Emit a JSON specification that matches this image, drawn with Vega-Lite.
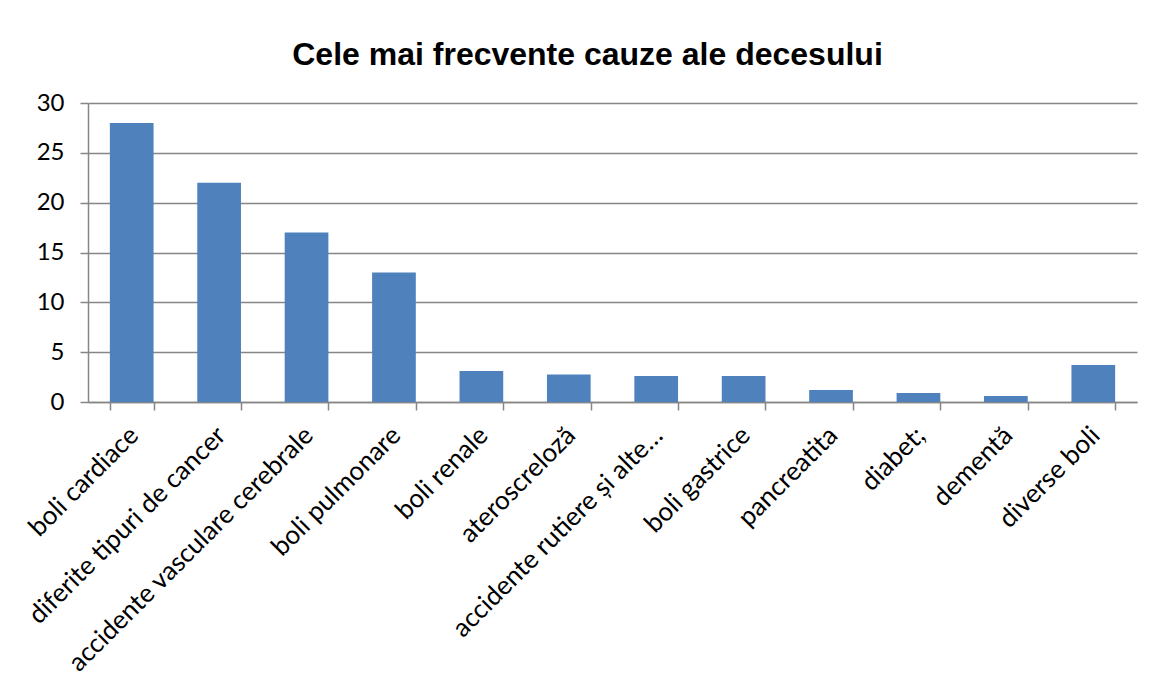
{
  "$schema": "https://vega.github.io/schema/vega-lite/v6.json",
  "width": 1049,
  "height": 299,
  "autosize": {"type": "none"},
  "padding": {"left": 88, "top": 103, "right": 17, "bottom": 274},
  "background": "white",
  "title": {
    "text": "Cele mai frecvente cauze ale decesului",
    "font": "Liberation Sans",
    "fontSize": 32,
    "fontWeight": "bold",
    "color": "black",
    "anchor": "middle",
    "dx": -25,
    "baseline": "alphabetic",
    "offset": -6
  },
  "data": {
    "values": [
      {"cauza": "boli cardiace", "valoare": 28},
      {"cauza": "diferite tipuri de cancer", "valoare": 22},
      {"cauza": "accidente vasculare cerebrale", "valoare": 17},
      {"cauza": "boli pulmonare", "valoare": 13},
      {"cauza": "boli renale", "valoare": 3.1},
      {"cauza": "ateroscreloză", "valoare": 2.75},
      {"cauza": "accidente rutiere și alte…", "valoare": 2.6},
      {"cauza": "boli gastrice", "valoare": 2.6},
      {"cauza": "pancreatita", "valoare": 1.2},
      {"cauza": "diabet;", "valoare": 0.9},
      {"cauza": "dementă", "valoare": 0.6},
      {"cauza": "diverse boli", "valoare": 3.7}
    ]
  },
  "mark": {"type": "bar", "color": "#4F81BD"},
  "encoding": {
    "x": {
      "field": "cauza",
      "type": "nominal",
      "sort": null,
      "scale": {"paddingInner": 0.5, "paddingOuter": 0.25},
      "axis": {
        "title": null,
        "labelAngle": -45,
        "labelAlign": "right",
        "labelBaseline": "middle",
        "labelFont": "Lato",
        "labelFontSize": 26,
        "labelColor": "black",
        "labelPadding": 21,
        "labelOffset": 2,
        "labelOverlap": false,
        "labelLimit": 0,
        "tickBand": "extent",
        "tickSize": 8,
        "tickColor": "#868686",
        "domainColor": "#868686",
        "domainWidth": 1.5,
        "tickWidth": 1.5,
        "grid": false
      }
    },
    "y": {
      "field": "valoare",
      "type": "quantitative",
      "scale": {"domain": [0, 30], "nice": false},
      "axis": {
        "title": null,
        "values": [0, 5, 10, 15, 20, 25, 30],
        "labelFont": "Lato",
        "labelFontSize": 24,
        "labelColor": "black",
        "labelPadding": 16,
        "tickSize": 8,
        "tickColor": "#868686",
        "tickWidth": 1.5,
        "domainColor": "#868686",
        "domainWidth": 1.5,
        "grid": true,
        "gridColor": "#868686",
        "gridWidth": 1.5
      }
    }
  },
  "config": {
    "view": {"stroke": null}
  }
}
